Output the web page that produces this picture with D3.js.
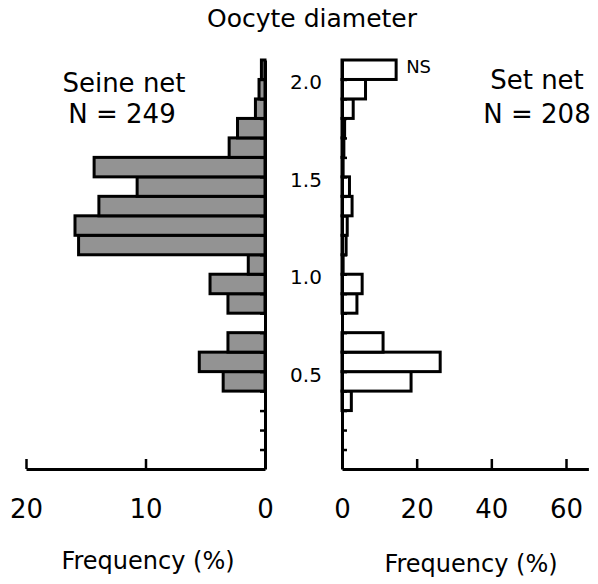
<!DOCTYPE html>
<html>
<head>
<meta charset="utf-8">
<script src="https://cdn.jsdelivr.net/npm/d3@7"></script>
<style>
  body { margin: 0; background: #fff; }
  text { font-family: "DejaVu Sans", sans-serif; fill: #000; }
</style>
</head>
<body>
<svg id="chart" width="598" height="584"></svg>
<script>
// lower edge of each 0.1 mm diameter class
const diameter = [0.0, 0.1, 0.2, 0.3, 0.4, 0.5, 0.6, 0.7, 0.8, 0.9, 1.0,
                  1.1, 1.2, 1.3, 1.4, 1.5, 1.6, 1.7, 1.8, 1.9, 2.0]
// frequency (%) per class
const seineNet = [0, 0, 0, 0, 3.5, 5.5, 3.1, 0, 3.1, 4.6, 1.4,
                  15.6, 15.9, 13.9, 10.7, 14.3, 3.0, 2.3, 0.8, 0.5, 0.3]
const setNet = [0, 0, 0, 2.5, 18.5, 26.3, 11.0, 0, 4.0, 5.4, 0.3,
                1.1, 1.4, 2.7, 2.0, 0.3, 0.5, 0.7, 3.0, 6.3, 14.5]
const diamTicks = [0.5, 1.0, 1.5, 2.0]
const seineTicks = [20, 10, 0]
const setTicks = [0, 20, 40, 60]
const binWidth = 0.1

const svg = d3.select("#chart")

const y = d3.scaleLinear().domain([0, 2.1]).range([469, 60])
const xL = d3.scaleLinear().domain([0, 20]).range([265, 26])
const xR = d3.scaleLinear().domain([0, 66]).range([342, 588.4])

const boundaries = d3.range(1, 21).map(i => i * binWidth)

// seine net bars (grow to the left)
svg.append("g").selectAll("rect")
  .data(diameter.map((d, i) => ({ d, v: seineNet[i] })).filter(e => e.v > 0))
  .enter().append("rect")
    .attr("x", e => xL(e.v))
    .attr("width", e => xL(0) - xL(e.v))
    .attr("y", e => y(e.d + binWidth))
    .attr("height", e => y(e.d) - y(e.d + binWidth))
    .attr("fill", "#939393")
    .attr("stroke", "#000")
    .attr("stroke-width", 3)

// set net bars (grow to the right)
svg.append("g").selectAll("rect")
  .data(diameter.map((d, i) => ({ d, v: setNet[i] })).filter(e => e.v > 0))
  .enter().append("rect")
    .attr("x", xR(0))
    .attr("width", e => xR(e.v) - xR(0))
    .attr("y", e => y(e.d + binWidth))
    .attr("height", e => y(e.d) - y(e.d + binWidth))
    .attr("fill", "#fff")
    .attr("stroke", "#000")
    .attr("stroke-width", 3)

// vertical axes
svg.append("g")
  .attr("transform", "translate(" + xL(0) + ",0)")
  .call(d3.axisLeft(y).tickValues(boundaries).tickFormat("").tickSizeInner(5).tickSizeOuter(0))
svg.append("g")
  .attr("transform", "translate(" + xR(0) + ",0)")
  .call(d3.axisRight(y).tickValues(boundaries).tickFormat("").tickSizeInner(5).tickSizeOuter(0))

// horizontal axes
svg.append("g")
  .attr("transform", "translate(0," + y(0) + ")")
  .call(d3.axisBottom(xL).tickValues(seineTicks).tickSizeInner(-10).tickSizeOuter(0).tickPadding(31))
svg.append("g")
  .attr("transform", "translate(0," + y(0) + ")")
  .call(d3.axisBottom(xR).tickValues(setTicks).tickSizeInner(-10).tickSizeOuter(0).tickPadding(31))

svg.selectAll(".domain").attr("stroke", "#000").attr("stroke-width", 3)
svg.selectAll(".tick line").attr("stroke", "#000").attr("stroke-width", 2.5)
svg.selectAll(".tick text")
  .style("font-family", "DejaVu Sans")
  .style("font-size", "26px")
  .attr("fill", "#000")

// diameter labels between the panels
svg.append("g").selectAll("text")
  .data(diamTicks)
  .enter().append("text")
    .attr("x", 306)
    .attr("y", d => y(d) + 3)
    .attr("text-anchor", "middle")
    .attr("dominant-baseline", "central")
    .style("font-size", "20px")
    .text(d => d.toFixed(1))

svg.append("text")
  .attr("x", 312).attr("y", 27)
  .attr("text-anchor", "middle")
  .style("font-size", "25px")
  .text("Oocyte diameter")

svg.append("text")
  .attr("x", 124).attr("y", 92)
  .attr("text-anchor", "middle")
  .style("font-size", "26px")
  .text("Seine net")
svg.append("text")
  .attr("x", 122).attr("y", 123)
  .attr("text-anchor", "middle")
  .style("font-size", "26px")
  .text("N = 249")

svg.append("text")
  .attr("x", 537).attr("y", 89)
  .attr("text-anchor", "middle")
  .style("font-size", "26px")
  .text("Set net")
svg.append("text")
  .attr("x", 537).attr("y", 123)
  .attr("text-anchor", "middle")
  .style("font-size", "26px")
  .text("N = 208")

svg.append("text")
  .attr("x", xR(setNet[20]) + 10).attr("y", 73)
  .style("font-size", "18px")
  .text("NS")

svg.append("text")
  .attr("x", 148).attr("y", 569)
  .attr("text-anchor", "middle")
  .style("font-size", "24px")
  .text("Frequency (%)")
svg.append("text")
  .attr("x", 471).attr("y", 572)
  .attr("text-anchor", "middle")
  .style("font-size", "24px")
  .text("Frequency (%)")
</script>
</body>
</html>
